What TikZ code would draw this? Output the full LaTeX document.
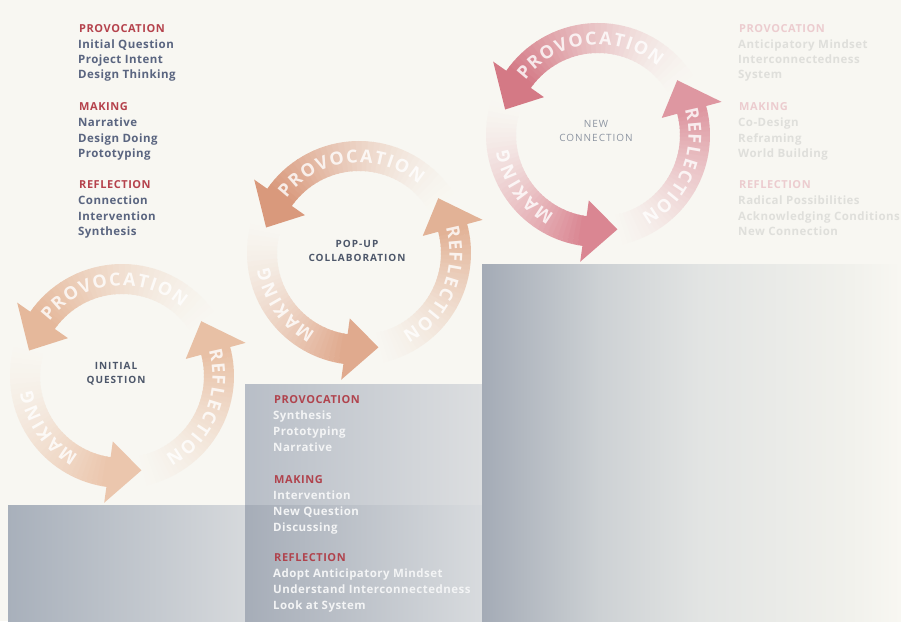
\documentclass[tikz,border=0pt]{standalone}
\usepackage{fontspec}
\setmainfont{Open Sans}
\newfontfamily\ringfam[WordSpace=0.35]{Open Sans}
\usetikzlibrary{calc,decorations.text}
\definecolor{bg}{HTML}{F8F7F2}
\definecolor{redh}{HTML}{B5424C}
\definecolor{redm}{HTML}{B0434D}
\definecolor{slate}{HTML}{5A6580}
\definecolor{pinkh}{HTML}{ECCCCF}
\definecolor{palet}{HTML}{DFDFDB}
\definecolor{whitet}{HTML}{F3F4F5}
\definecolor{labc}{HTML}{4D576A}
\definecolor{labl}{HTML}{8D95A2}
\definecolor{s1l}{HTML}{A8B0BB}
\definecolor{s1r}{HTML}{D6D9DC}
\definecolor{s2tl}{HTML}{B8BEC7}
\definecolor{s2tr}{HTML}{DCDEE0}
\definecolor{s2bl}{HTML}{A6ADB8}
\definecolor{s2br}{HTML}{D8DBDE}
\definecolor{s3a}{HTML}{A4ABB6}
\definecolor{s3b}{HTML}{CDD1D4}
\definecolor{s3c}{HTML}{E2E4E3}
\definecolor{s3d}{HTML}{F1F1EC}
\definecolor{a1p}{HTML}{E5B89B}
\definecolor{a1m}{HTML}{EBC6AD}
\definecolor{a1r}{HTML}{E8C0A5}
\definecolor{a2p}{HTML}{D9997C}
\definecolor{a2m}{HTML}{E0AA8E}
\definecolor{a2r}{HTML}{E2B296}
\definecolor{a3p}{HTML}{D47985}
\definecolor{a3m}{HTML}{DA8692}
\definecolor{a3r}{HTML}{DE97A1}
\pgfdeclarehorizontalshading{stepthree}{100bp}{color(0bp)=(s3a); color(25bp)=(s3a); color(39bp)=(s3b); color(51bp)=(s3c); color(69bp)=(s3d); color(75bp)=(bg); color(100bp)=(bg)}
\newcommand{\ringfont}{\color{white}\ringfam\fontsize{18}{18}\selectfont\bfseries}
% body of a gradient arc arrow: center, tail angle, base angle, colour
\newcommand{\arcbody}[4]{%
  \foreach \k in {0,...,35}{%
    \pgfmathsetmacro{\aa}{#2+(#3-#2)*\k/36}%
    \pgfmathsetmacro{\ab}{#2+(#3-#2)*(\k+1)/36+0.5}%
    \pgfmathsetmacro{\pp}{100*((\k+1)/36)^1.5}%
    \draw[line width=30pt, color=#4!\pp!bg] ($(#1)+(\aa:97)$) arc[start angle=\aa, end angle=\ab, radius=97];
  }%
}
% head of the arrow: center, base angle, colour
\newcommand{\archead}[3]{%
  \pgfmathsetmacro{\hd}{#2+101}%
  \fill[#3] ($(#1)+(#2:66)$) -- ($(#1)+(#2:128)$) -- ($(#1)+(#2:97)+(\hd:33)$) -- cycle;
}
\newcommand{\ringword}[4]{%
  \path[decorate, decoration={text along path, text align=center, text={|\ringfont|#4}}]
    ($(#1)+(#2:90.5)$) arc[start angle=#2, end angle=#3, radius=90.5];
}
\tikzset{
  headL/.style={anchor=west, inner sep=0pt, text height=8pt, text depth=2pt, font=\fontsize{11}{12}\selectfont\bfseries\addfontfeature{LetterSpace=5}},
  itemL/.style={anchor=west, inner sep=0pt, text height=8pt, text depth=2pt, font=\fontsize{11.5}{12}\selectfont\bfseries\addfontfeature{LetterSpace=4}},
  clab/.style={align=center, inner sep=0pt, font=\fontsize{10}{13.5}\selectfont\bfseries\addfontfeature{LetterSpace=10}}
}
\begin{document}
\begin{tikzpicture}[x=1pt,y=1pt]
\useasboundingbox (0,0) rectangle (901,621);
\fill[bg] (0,0) rectangle (901,621);
% steps
\shade[left color=s1l, right color=s1r] (8,0) rectangle (245,116);
\shade[left color=s2tl, right color=s2tr] (245,116) rectangle (482,236);
\shade[left color=s2bl, right color=s2br] (245,0) rectangle (482,116);
\shade[shading=stepthree] (482,0) rectangle (901,356);
% cycle centres
\coordinate (c1) at (122,245);
\coordinate (c2) at (359,368);
\coordinate (c3) at (598,486);
% arrows
\arcbody{c1}{32}{145}{a1p}\arcbody{c1}{162}{262}{a1m}\arcbody{c1}{280}{375}{a1r}
\archead{c1}{145}{a1p}\archead{c1}{262}{a1m}\archead{c1}{375}{a1r}
\arcbody{c2}{32}{145}{a2p}\arcbody{c2}{162}{262}{a2m}\arcbody{c2}{280}{375}{a2r}
\archead{c2}{145}{a2p}\archead{c2}{262}{a2m}\archead{c2}{375}{a2r}
\arcbody{c3}{32}{145}{a3p}\arcbody{c3}{162}{262}{a3m}\arcbody{c3}{280}{375}{a3r}
\archead{c3}{145}{a3p}\archead{c3}{262}{a3m}\archead{c3}{375}{a3r}
% words on the arrows
\begin{scope}[opacity=0.8]
\foreach \c in {c1,c2,c3}{
  \ringword{\c}{160}{32}{P R O V O C A T I O N}
  \ringword{\c}{30}{-75}{R E F L E C T I O N}
  \ringword{\c}{255}{175}{M A K I N G}
}
\end{scope}
% centre labels
\node[clab, text=labc] (q1) at (116,247) {INITIAL\\QUESTION};
\node[clab, text=labc] (q2) at (357,370) {POP-UP\\COLLABORATION};
\node[clab, text=labl, font=\fontsize{10}{13.5}\selectfont\addfontfeature{LetterSpace=10}] (q3) at (596,490) {NEW\\CONNECTION};
% left list
\foreach \t/\y [count=\i] in {PROVOCATION/30, MAKING/108, REFLECTION/186}
  \node[headL, text=redh] (lh\i) at (79,621-\y) {\t};
\foreach \t/\y [count=\i] in {Initial Question/46, Project Intent/61, Design Thinking/76, Narrative/124, Design Doing/140, Prototyping/155, Connection/202, Intervention/218, Synthesis/233}
  \node[itemL, text=slate] (li\i) at (78,621-\y) {\t};
% right list
\foreach \t/\y [count=\i] in {PROVOCATION/30, MAKING/108, REFLECTION/186}
  \node[headL, text=pinkh] (rh\i) at (739,621-\y) {\t};
\foreach \t/\y [count=\i] in {Anticipatory Mindset/46, Interconnectedness/61, System/76, Co-Design/124, Reframing/140, World Building/155, Radical Possibilities/202, Acknowledging Conditions/218, New Connection/233}
  \node[itemL, text=palet] (ri\i) at (738,621-\y) {\t};
% middle list
\foreach \t/\y [count=\i] in {PROVOCATION/401, MAKING/480, REFLECTION/558}
  \node[headL, text=redm] (mh\i) at (274,621-\y) {\t};
\foreach \t/\y [count=\i] in {Synthesis/417, Prototyping/433, Narrative/449, Intervention/496, New Question/512, Discussing/528, Adopt Anticipatory Mindset/574, Understand Interconnectedness/590, Look at System/606}
  \node[itemL, text=whitet] (mi\i) at (273,621-\y) {\t};
\end{tikzpicture}
\end{document}
